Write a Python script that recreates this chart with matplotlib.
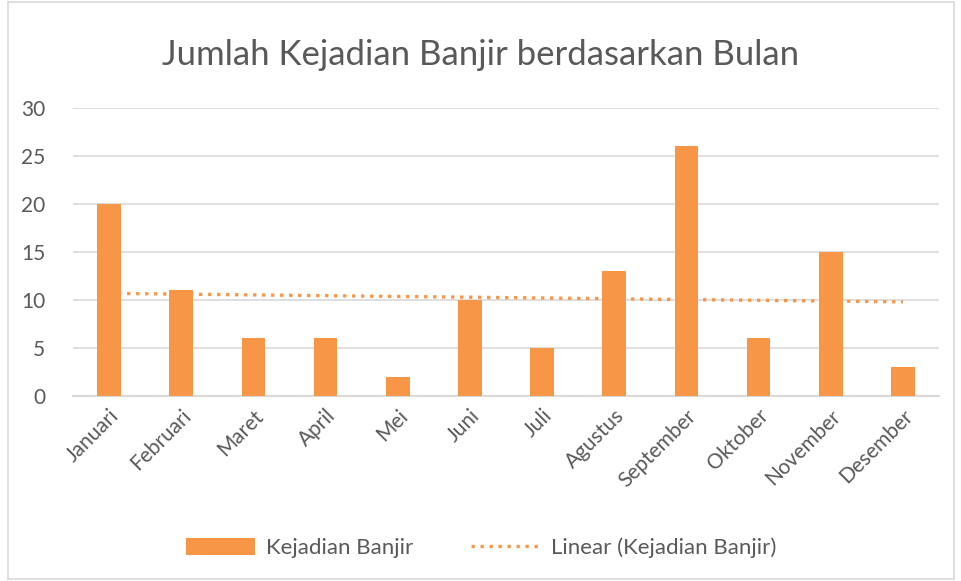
import matplotlib
matplotlib.use("Agg")
import matplotlib.pyplot as plt
from matplotlib.patches import Rectangle
import numpy as np

# data
bulan = ['Januari', 'Februari', 'Maret', 'April', 'Mei', 'Juni', 'Juli',
         'Agustus', 'September', 'Oktober', 'November', 'Desember']
kejadian = [20, 11, 6, 6, 2, 10, 5, 13, 26, 6, 15, 3]
y_ticks = [0, 5, 10, 15, 20, 25, 30]

plt.rcParams['font.family'] = ['Lato', 'DejaVu Sans']
abu = '#595959'
oranye = '#F79646'

fig = plt.figure(figsize=(9.62, 5.81), dpi=100)
ax = fig.add_axes([73 / 962, 1 - 396 / 581, 866 / 962, 288 / 581])

x = np.arange(len(bulan))
bars = ax.bar(x, kejadian, width=0.33, color=oranye, zorder=3, label='Kejadian Banjir')

# garis tren linear
k = np.polyfit(x, kejadian, 1)
tren, = ax.plot(x, np.polyval(k, x), color=oranye, linestyle=(0, (1, 1.7)), linewidth=2.4,
                zorder=2, label='Linear (Kejadian Banjir)')

ax.set_xlim(-0.5, len(bulan) - 0.5)
ax.set_ylim(0, 30)
ax.set_yticks(y_ticks)
ax.set_xticks(x)
ax.set_xticklabels(bulan, rotation=45, ha='right', rotation_mode='anchor')
ax.tick_params(axis='both', length=0, labelsize=15, colors=abu)
ax.tick_params(axis='y', pad=20)
ax.tick_params(axis='x', pad=7)
ax.grid(axis='y', color='#D9D9D9', linewidth=1.2, zorder=0)
for s in ['top', 'right', 'left']:
    ax.spines[s].set_visible(False)
ax.spines['bottom'].set_color('#D9D9D9')
ax.spines['bottom'].set_linewidth(1.5)

fig.text(0.5, 1 - 55 / 581, 'Jumlah Kejadian Banjir berdasarkan Bulan',
         ha='center', va='center', fontsize=25, color=abu)

fig.legend([bars, tren], ['Kejadian Banjir', 'Linear (Kejadian Banjir)'],
           loc='center', bbox_to_anchor=(0.5, 1 - 548 / 581), ncol=2, frameon=False,
           fontsize=16, labelcolor=abu, handlelength=3.1, handleheight=0.85,
           handletextpad=0.5, columnspacing=2.6)

# bingkai grafik
fig.patches.append(Rectangle((8 / 962, 2 / 581), 946 / 962, 577 / 581,
                             transform=fig.transFigure, fill=False,
                             edgecolor='#D9D9D9', linewidth=1.2))

plt.savefig('out.png', dpi=100)
